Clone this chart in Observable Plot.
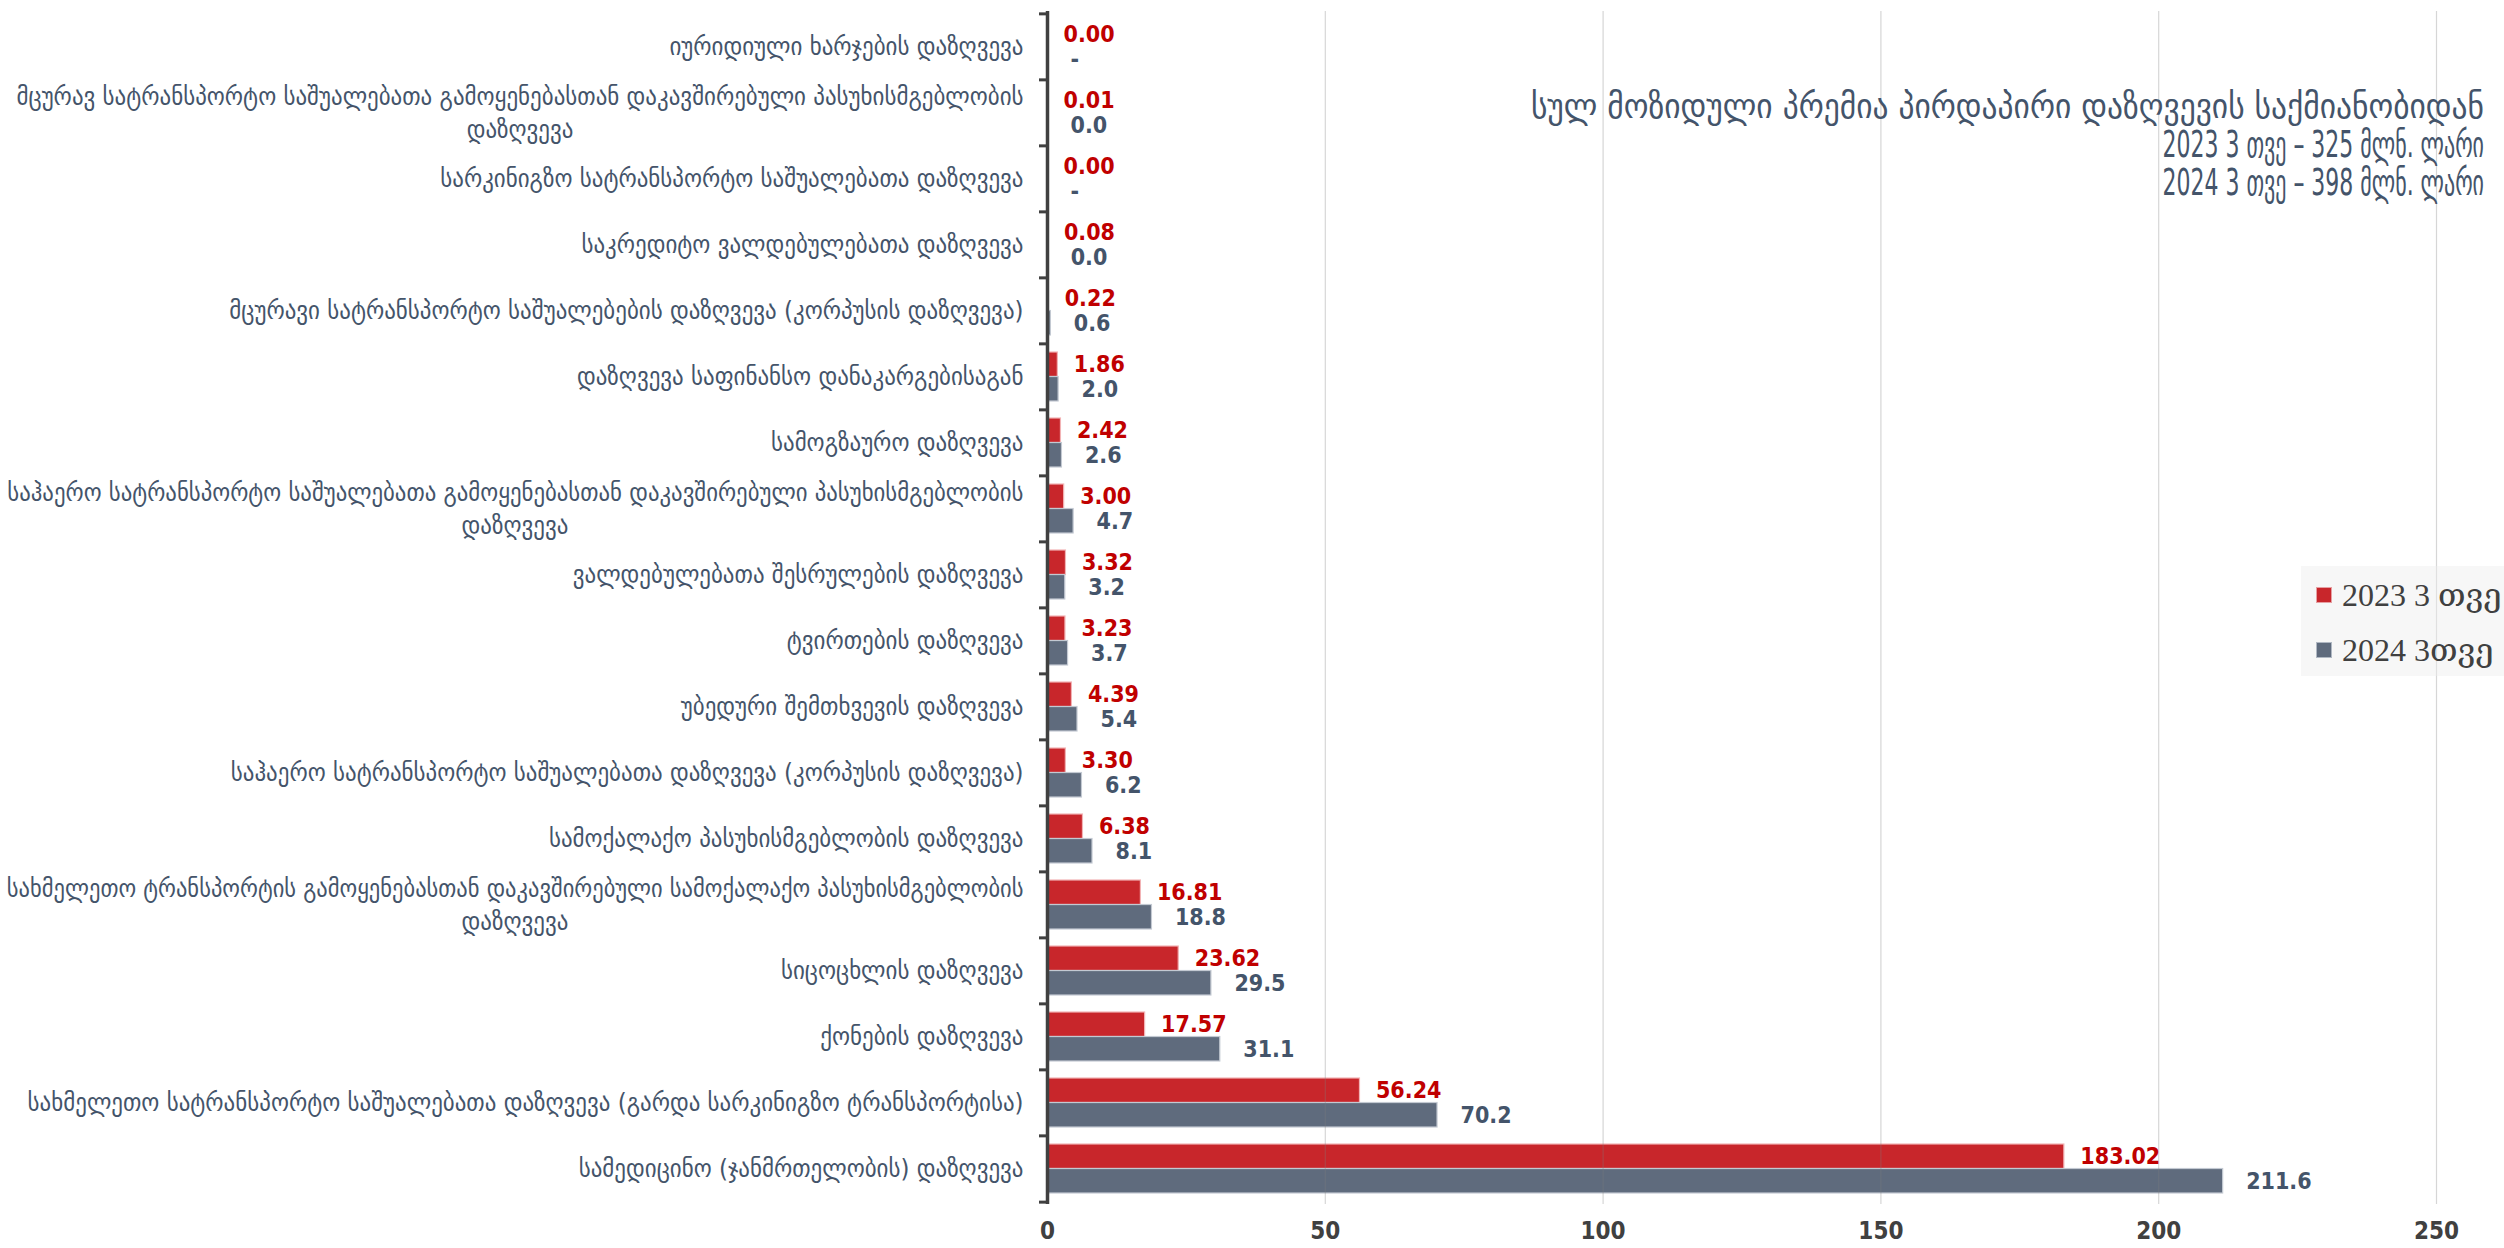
<!DOCTYPE html>
<html>
<head>
<meta charset="utf-8">
<script src="https://cdn.jsdelivr.net/npm/d3@7"></script>
<script src="https://cdn.jsdelivr.net/npm/@observablehq/plot@0.6"></script>
<style>
  html, body { margin: 0; padding: 0; background: #ffffff; }
  #wrap { position: relative; width: 2504px; height: 1248px; overflow: hidden; }
  #title { position: absolute; right: 20px; top: 88px; text-align: right; color: #44546a;
           font-family: "DejaVu Sans Condensed", "DejaVu Sans", sans-serif;
           font-size: 35px; line-height: 37.5px; white-space: nowrap; }
  #title .sq { display: inline-block; font-size: 37px; transform: scaleX(0.66); transform-origin: right center; }
  #legend { position: absolute; left: 2301px; top: 566px; width: 230px; height: 110px;
            background: rgba(238,238,238,0.45); font-family: "Liberation Serif", "DejaVu Serif", serif;
            font-size: 32px; color: #404040; }
  #legend .row { position: absolute; left: 15px; height: 40px; display: flex; align-items: center; white-space: nowrap; }
  #legend .sw { width: 16px; height: 16px; margin-right: 10px; box-sizing: border-box; }
</style>
</head>
<body>
<div id="wrap">
  <div id="chart"></div>
  <div id="title"></div>
  <div id="legend"></div>
</div>
<script>
// ---------- data ----------
const categories = [
  "იურიდიული ხარჯების დაზღვევა",
  "მცურავ სატრანსპორტო საშუალებათა გამოყენებასთან დაკავშირებული პასუხისმგებლობის\nდაზღვევა",
  "სარკინიგზო სატრანსპორტო საშუალებათა დაზღვევა",
  "საკრედიტო ვალდებულებათა დაზღვევა",
  "მცურავი სატრანსპორტო საშუალებების დაზღვევა (კორპუსის დაზღვევა)",
  "დაზღვევა საფინანსო დანაკარგებისაგან",
  "სამოგზაურო დაზღვევა",
  "საჰაერო სატრანსპორტო საშუალებათა გამოყენებასთან დაკავშირებული პასუხისმგებლობის\nდაზღვევა",
  "ვალდებულებათა შესრულების დაზღვევა",
  "ტვირთების დაზღვევა",
  "უბედური შემთხვევის დაზღვევა",
  "საჰაერო სატრანსპორტო საშუალებათა დაზღვევა (კორპუსის დაზღვევა)",
  "სამოქალაქო პასუხისმგებლობის დაზღვევა",
  "სახმელეთო ტრანსპორტის გამოყენებასთან დაკავშირებული სამოქალაქო პასუხისმგებლობის\nდაზღვევა",
  "სიცოცხლის დაზღვევა",
  "ქონების დაზღვევა",
  "სახმელეთო სატრანსპორტო საშუალებათა დაზღვევა (გარდა სარკინიგზო ტრანსპორტისა)",
  "სამედიცინო (ჯანმრთელობის) დაზღვევა"
];
const values2023 = [0.00, 0.01, 0.00, 0.08, 0.22, 1.86, 2.42, 3.00, 3.32, 3.23, 4.39, 3.30, 6.38, 16.81, 23.62, 17.57, 56.24, 183.02];
const values2024 = [0, 0.02, 0, 0.03, 0.6, 2.0, 2.6, 4.7, 3.2, 3.7, 5.4, 6.2, 8.1, 18.8, 29.5, 31.1, 70.2, 211.6];
const seriesNames = ["2023 3 თვე", "2024 3თვე"];
const seriesColors = ["#c8262b", "#5f6b7d"];
const labelColors = ["#c00000", "#44546a"];
const xTicks = [0, 50, 100, 150, 200, 250];
const titleLines = [
  "სულ მოზიდული პრემია პირდაპირი დაზღვევის საქმიანობიდან",
  "2023 3 თვე – 325 მლნ. ლარი",
  "2024 3 თვე – 398 მლნ. ლარი"
];

// ---------- layout ----------
const W = 2504, H = 1248;
const mTop = 11, mBottom = 44, mLeft = 1047, mRight = 68;
const n = categories.length;
const step = (H - mTop - mBottom) / n;
const padInner = 0.26;
const bw = step * (1 - padInner);

const labelFont = '"DejaVu Sans Condensed", "DejaVu Sans", sans-serif';
const labelSize = 25.5;
const labelGap = 24;
const lineGap = 33;
const avail = mLeft - labelGap - 6;
const ctx = document.createElement("canvas").getContext("2d");
ctx.font = `${labelSize}px ${labelFont}`;

const rows = categories.map((c, i) => {
  const lines = c.split("\n");
  const w = ctx.measureText(lines[0]).width;
  const fs = w > avail ? labelSize * avail / w : labelSize;
  return {cat: c, line1: lines[0], line2: lines[1] || null, v23: values2023[i], v24: values2024[i],
          fs, w1: Math.min(w, avail)};
});
const single = rows.filter(d => !d.line2);
const wrapped = rows.filter(d => d.line2);

const numFont = '"Liberation Sans Narrow", "Arial Narrow", "DejaVu Sans Condensed", sans-serif';

const marks = [
  Plot.barX(rows, {y: "cat", x: "v23", fill: seriesColors[0], stroke: "#f2b3b5", strokeWidth: 1.2, insetBottom: bw / 2}),
  Plot.barX(rows, {y: "cat", x: "v24", fill: seriesColors[1], stroke: "#c3c9d2", strokeWidth: 1.2, insetTop: bw / 2}),
  Plot.gridX(xTicks.slice(1), {stroke: "#808080", strokeOpacity: 0.32, strokeWidth: 1.2}),
  Plot.ruleX([0], {stroke: "#404040", strokeWidth: 3.5}),
  // tick marks at category boundaries
  Plot.ruleY(categories, {y: d => d, dy: -step / 2, x1: 0, x2: 0, insetLeft: -8, stroke: "#404040", strokeWidth: 3}),
  Plot.ruleY(categories.slice(-1), {y: d => d, dy: step / 2, x1: 0, x2: 0, insetLeft: -8, stroke: "#404040", strokeWidth: 3}),
  // value labels
  Plot.text(rows, {y: "cat", x: "v23", text: d => d.v23.toFixed(2), dy: -bw / 4, dx: 16, textAnchor: "start",
    fill: labelColors[0], fontWeight: "bold", fontSize: 23, fontFamily: numFont}),
  Plot.text(rows, {y: "cat", x: "v24", text: d => d.v24 === 0 ? "-" : d.v24.toFixed(1), dy: bw / 4, dx: 23, textAnchor: "start",
    fill: labelColors[1], fontWeight: "bold", fontSize: 23, fontFamily: numFont}),
  // category labels
  Plot.text(single, {y: "cat", x: () => 0, text: "line1", textAnchor: "end", dx: -labelGap,
    fill: "#44546a", fontSize: "fs", fontFamily: labelFont}),
  Plot.text(wrapped, {y: "cat", x: () => 0, text: "line1", textAnchor: "end", dx: -labelGap, dy: -lineGap / 2,
    fill: "#44546a", fontSize: "fs", fontFamily: labelFont}),
  ...wrapped.map(d => Plot.text([d], {y: "cat", x: () => 0, text: "line2", textAnchor: "middle",
      dx: -labelGap - d.w1 / 2, dy: lineGap / 2,
      fill: "#44546a", fontSize: labelSize, fontFamily: labelFont})),
  Plot.axisX(xTicks, {tickSize: 0, tickPadding: 17, fontSize: 24, fontWeight: "bold", fill: "#404040", fontFamily: numFont, label: null})
];

const chart = Plot.plot({
  width: W, height: H,
  marginTop: mTop, marginBottom: mBottom, marginLeft: mLeft, marginRight: mRight,
  style: {background: "transparent", overflow: "visible"},
  x: {domain: [0, 250], axis: null},
  y: {domain: categories, paddingInner: padInner, paddingOuter: padInner / 2, axis: null},
  marks
});
document.getElementById("chart").appendChild(chart);

// ---------- title ----------
const t = document.getElementById("title");
titleLines.forEach((s, i) => {
  const div = document.createElement("div");
  if (i === 0) div.textContent = s;
  else { const sp = document.createElement("span"); sp.className = "sq"; sp.textContent = s; div.appendChild(sp); }
  t.appendChild(div);
});

// ---------- legend ----------
const lg = document.getElementById("legend");
seriesNames.forEach((s, i) => {
  const r = document.createElement("div");
  r.className = "row";
  r.style.top = (i === 0 ? 9 : 64) + "px";
  const sw = document.createElement("div");
  sw.className = "sw";
  sw.style.background = seriesColors[i];
  sw.style.border = "1px solid " + (i === 0 ? "#e6a0a3" : "#b0b8c3");
  const tx = document.createElement("span");
  tx.textContent = s;
  r.appendChild(sw); r.appendChild(tx);
  lg.appendChild(r);
});
</script>
</body>
</html>
